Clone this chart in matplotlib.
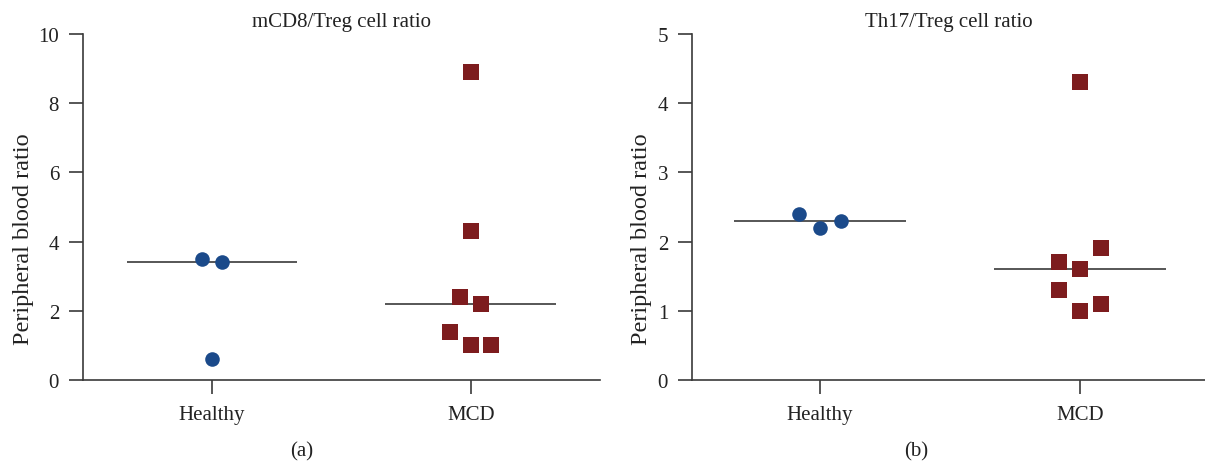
import matplotlib
matplotlib.use("Agg")
import matplotlib.pyplot as plt

plt.rcParams["font.family"] = ["Liberation Serif", "DejaVu Serif"]

groups = ["Healthy", "MCD"]

# (a) mCD8/Treg
a_healthy = [3.5, 3.4, 0.6]
a_healthy_off = [-0.04, 0.04, 0.0]
a_mcd = [8.9, 4.3, 2.4, 2.2, 1.4, 1.0, 1.0]
a_mcd_off = [0.0, 0.0, -0.04, 0.04, -0.08, 0.0, 0.08]
a_medians = [3.4, 2.2]

# (b) Th17/Treg
b_healthy = [2.4, 2.2, 2.3]
b_healthy_off = [-0.08, 0.0, 0.08]
b_mcd = [4.3, 1.7, 1.6, 1.9, 1.3, 1.0, 1.1]
b_mcd_off = [0.0, -0.08, 0.0, 0.08, -0.08, 0.0, 0.08]
b_medians = [2.3, 1.6]

blue = "#1b4a8a"
red = "#7d1c1e"
axcol = "#3a3a3a"

fig = plt.figure(figsize=(12.05, 4.64), dpi=100)
ax1 = fig.add_axes([0.0686, 0.179, 0.4294, 0.7456])
ax2 = fig.add_axes([0.574, 0.179, 0.426, 0.7456])


def panel(ax, h, h_off, m, m_off, med, ymax, title, xlim, ylab_x):
    ax.scatter([1 + o for o in h_off], h, s=110, marker="o", color=blue, zorder=3, linewidths=0)
    ax.scatter([2 + o for o in m_off], m, s=120, marker="s", color=red, zorder=3, linewidths=0)
    for i, v in enumerate(med):
        ax.hlines(v, i + 1 - 0.33, i + 1 + 0.33, color=axcol, lw=1.2, zorder=2)
    ax.set_xlim(*xlim)
    ax.set_ylim(0, ymax)
    ax.set_xticks([1, 2])
    ax.set_xticklabels(groups)
    ax.spines["top"].set_visible(False)
    ax.spines["right"].set_visible(False)
    for s in ["left", "bottom"]:
        ax.spines[s].set_color(axcol)
        ax.spines[s].set_linewidth(1.2)
    ax.tick_params(direction="out", length=10, width=1.2, color=axcol, labelsize=15,
                   labelcolor="#222222")
    ax.tick_params(axis="x", pad=8)
    ax.tick_params(axis="y", pad=7)
    ax.set_ylabel("Peripheral blood ratio", fontsize=17.5, color="#222222")
    ax.yaxis.set_label_coords(ylab_x, 0.41)
    ax.set_title(title, fontsize=15, color="#222222", pad=6)


panel(ax1, a_healthy, a_healthy_off, a_mcd, a_mcd_off, a_medians, 10,
      "mCD8/Treg cell ratio", (0.5, 2.5), -0.094)
ax1.set_yticks([0, 2, 4, 6, 8, 10])
panel(ax2, b_healthy, b_healthy_off, b_mcd, b_mcd_off, b_medians, 5,
      "Th17/Treg cell ratio", (0.507, 2.48), -0.077)
ax2.set_yticks([0, 1, 2, 3, 4, 5])

fig.text(302 / 1205, 1 - 452 / 464, "(a)", ha="center", va="center", fontsize=15, color="#222222")
fig.text(916 / 1205, 1 - 452 / 464, "(b)", ha="center", va="center", fontsize=15, color="#222222")

fig.savefig("out.png", dpi=100)
